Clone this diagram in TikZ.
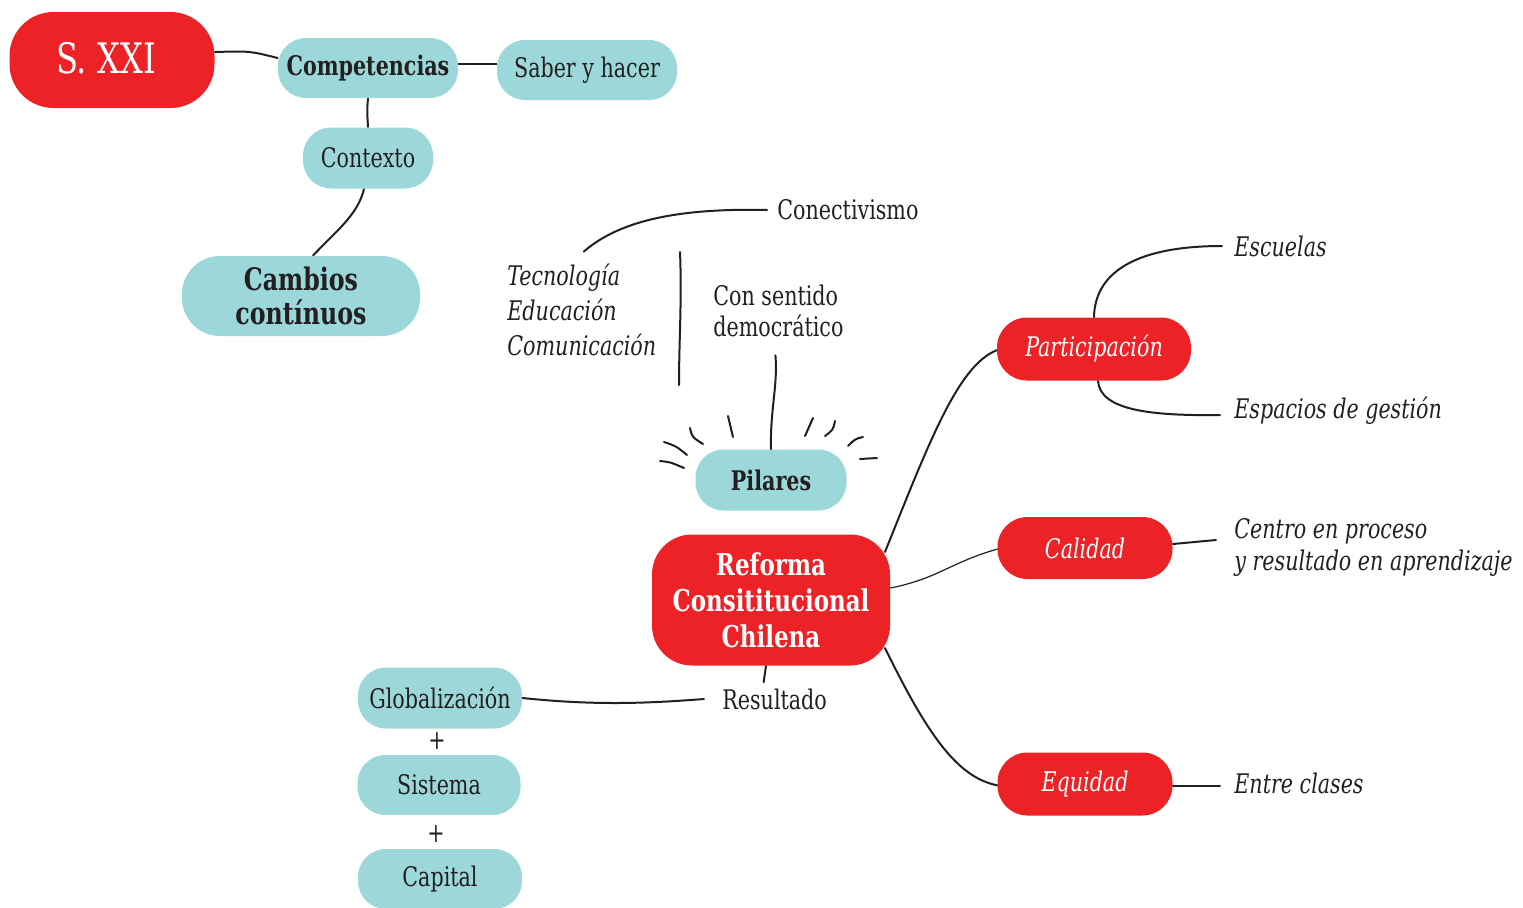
\documentclass[tikz,border=0pt]{standalone}
\usepackage{fontspec}
\setmainfont{DejaVu Serif Condensed}[FakeStretch=0.85]
\usetikzlibrary{backgrounds}
\definecolor{redb}{HTML}{EC2227}
\definecolor{tealb}{HTML}{9CD8D9}
\definecolor{ink}{HTML}{231F20}
\tikzset{
  blob/.style={inner sep=0pt, align=center},
  tealblob/.style={blob, fill=tealb, text=ink},
  redblob/.style={blob, fill=redb, text=white},
  reg/.style={font=\fontsize{13.5}{17}\selectfont},
  bld/.style={font=\bfseries\fontsize{13.5}{17}\selectfont},
  itl/.style={font=\itshape\fontsize{13.5}{16}\selectfont},
  plain/.style={inner sep=0pt, text=ink, align=left},
  conn/.style={draw=ink, line width=1pt, line cap=round},
  thinconn/.style={draw=ink, line width=0.6pt, line cap=round},
  ray/.style={draw=ink, line width=1pt, line cap=round}
}
\begin{document}
\begin{tikzpicture}[x=0.5pt,y=-0.5pt]
\useasboundingbox (0,0) rectangle (1523,907);
% top-left cluster
\node[redblob, minimum width=102.5pt, minimum height=48pt, rounded corners=22pt, font=\fontsize{21}{24}\selectfont] (sxxi) at (112,60) {\raisebox{2pt}{S. XXI}\hspace{6pt}};
\node[tealblob, bld, minimum width=90pt, minimum height=30pt, rounded corners=14pt] (comp) at (368,68) {Competencias};
\node[tealblob, reg, minimum width=90pt, minimum height=30pt, rounded corners=14pt] (saber) at (587,70) {Saber y hacer};
\node[tealblob, reg, minimum width=65pt, minimum height=30.5pt, rounded corners=14pt] (contexto) at (368,158) {Contexto};
\node[tealblob, font=\bfseries\fontsize{15.5}{17}\selectfont, minimum width=119pt, minimum height=40pt, rounded corners=19pt] (cambios) at (301,296) {Cambios\\contínuos};
% pillars area
\node[plain, reg, anchor=west] (conect) at (777,210) {Conectivismo};
\node[plain, itl, anchor=west, font=\itshape\fontsize{13.5}{17.5}\selectfont] (tec) at (507,310) {Tecnología\\Educación\\Comunicación};
\node[plain, reg, anchor=west, font=\fontsize{13.5}{15.5}\selectfont] (consent) at (713,311) {Con sentido\\democrático};
\node[tealblob, bld, minimum width=75.5pt, minimum height=30.5pt, rounded corners=14pt] (pilares) at (771,480) {Pilares};
\node[redblob, font=\bfseries\fontsize{15}{18}\selectfont, minimum width=119pt, minimum height=65.5pt, rounded corners=20pt] (reforma) at (771,600) {Reforma\\Consititucional\\Chilena};
% bottom-left
\node[plain, reg, anchor=west] (result) at (722,699) {Resultado};
\node[tealblob, reg, minimum width=82pt, minimum height=30.5pt, rounded corners=14pt] (glob) at (440,698) {Globalización};
\node[plain, reg] (plus1) at (437,741) {+};
\node[tealblob, reg, minimum width=81.5pt, minimum height=30pt, rounded corners=14pt] (sistema) at (439,785) {Sistema};
\node[plain, reg] (plus2) at (436,834) {+};
\node[tealblob, reg, minimum width=82pt, minimum height=30pt, rounded corners=14pt] (capital) at (440,879) {Capital};
% right side
\node[redblob, itl, minimum width=97pt, minimum height=31.5pt, rounded corners=15pt] (partic) at (1094,349) {Participación};
\node[redblob, itl, minimum width=87.5pt, minimum height=31pt, rounded corners=15pt] (calidad) at (1085,548) {Calidad};
\node[redblob, itl, minimum width=87.5pt, minimum height=31.5pt, rounded corners=15pt] (equidad) at (1085,784) {Equidad};
\node[plain, itl, anchor=west] (escuelas) at (1234,246) {Escuelas};
\node[plain, itl, anchor=west] (espacios) at (1234,411) {Espacios de gestión};
\node[plain, itl, anchor=west] (centro) at (1234,547) {Centro en proceso\\y resultado en aprendizaje};
\node[plain, itl, anchor=west] (entre) at (1234,783) {Entre clases};

\begin{scope}[on background layer]
\draw[conn] ([yshift=4pt]sxxi.east) .. controls (250,51) .. ([yshift=5pt]comp.west);
\draw[conn] ([yshift=2pt]comp.east) -- ([yshift=3pt]saber.west);
\draw[conn] (comp.south) .. controls (367,110) .. (contexto.north);
\draw[conn] ([xshift=-2pt]contexto.south) .. controls (358,215) and (335,232) .. ([xshift=6pt]cambios.north);
\draw[conn] ([xshift=-2.5pt]reforma.south) -- ([xshift=-5.5pt,yshift=3pt]result.north);
\draw[conn] (glob.east) .. controls (590,705) and (640,704) .. ([xshift=-9pt]result.west);
\draw[conn] ([xshift=57pt,yshift=24pt]reforma.center) .. controls (930,440) and (960,360) .. ([xshift=2pt]partic.west);
\draw[thinconn] ([yshift=6pt]reforma.east) .. controls (940,578) and (950,562) .. ([xshift=2pt]calidad.west);
\draw[conn] ([xshift=57pt,yshift=-24pt]reforma.center) .. controls (930,740) and (960,780) .. ([xshift=2pt,yshift=-1pt]equidad.west);
\draw[conn] (partic.north) .. controls (1095,270) and (1140,246) .. ([xshift=-6pt]escuelas.west);
\draw[conn] ([xshift=2pt]partic.south) .. controls (1100,410) and (1150,416) .. ([xshift=-7pt,yshift=-2pt]espacios.west);
\draw[conn] ([yshift=2pt]calidad.east) -- ([xshift=-9pt,yshift=3.5pt]centro.west);
\draw[conn] ([yshift=-1pt]equidad.east) -- ([xshift=-7pt,yshift=-1.5pt]entre.west);
\end{scope}
% other connectors
\draw[conn] ([xshift=-1.5pt,yshift=-9pt]consent.south) .. controls (778,385) and (770,410) .. (pilares.north);
\draw[conn] ([xshift=1pt,yshift=6pt]tec.north) .. controls (620,220) and (680,208) .. ([xshift=-5pt]conect.west);
% separator
\coordinate (sepA) at (680,252);
\coordinate (sepB) at (679,385);
\draw[conn] (sepA) .. controls (682,300) and (679,340) .. (sepB);
% rays round Pilares
\draw[ray] (660,461) .. controls (670,462) .. (684,468);
\draw[ray] (664,442) .. controls (676,446) .. (687,455);
\draw[ray] (690,428) .. controls (692,437) .. (703,444);
\draw[ray] (728,416) -- (733,437);
\draw[ray] (813,418) -- (805,436);
\draw[ray] (835,421) .. controls (833,430) .. (825,436);
\draw[ray] (863,437) .. controls (855,439) .. (848,446);
\draw[ray] (860,459) -- (877,458);
\end{tikzpicture}
\end{document}
